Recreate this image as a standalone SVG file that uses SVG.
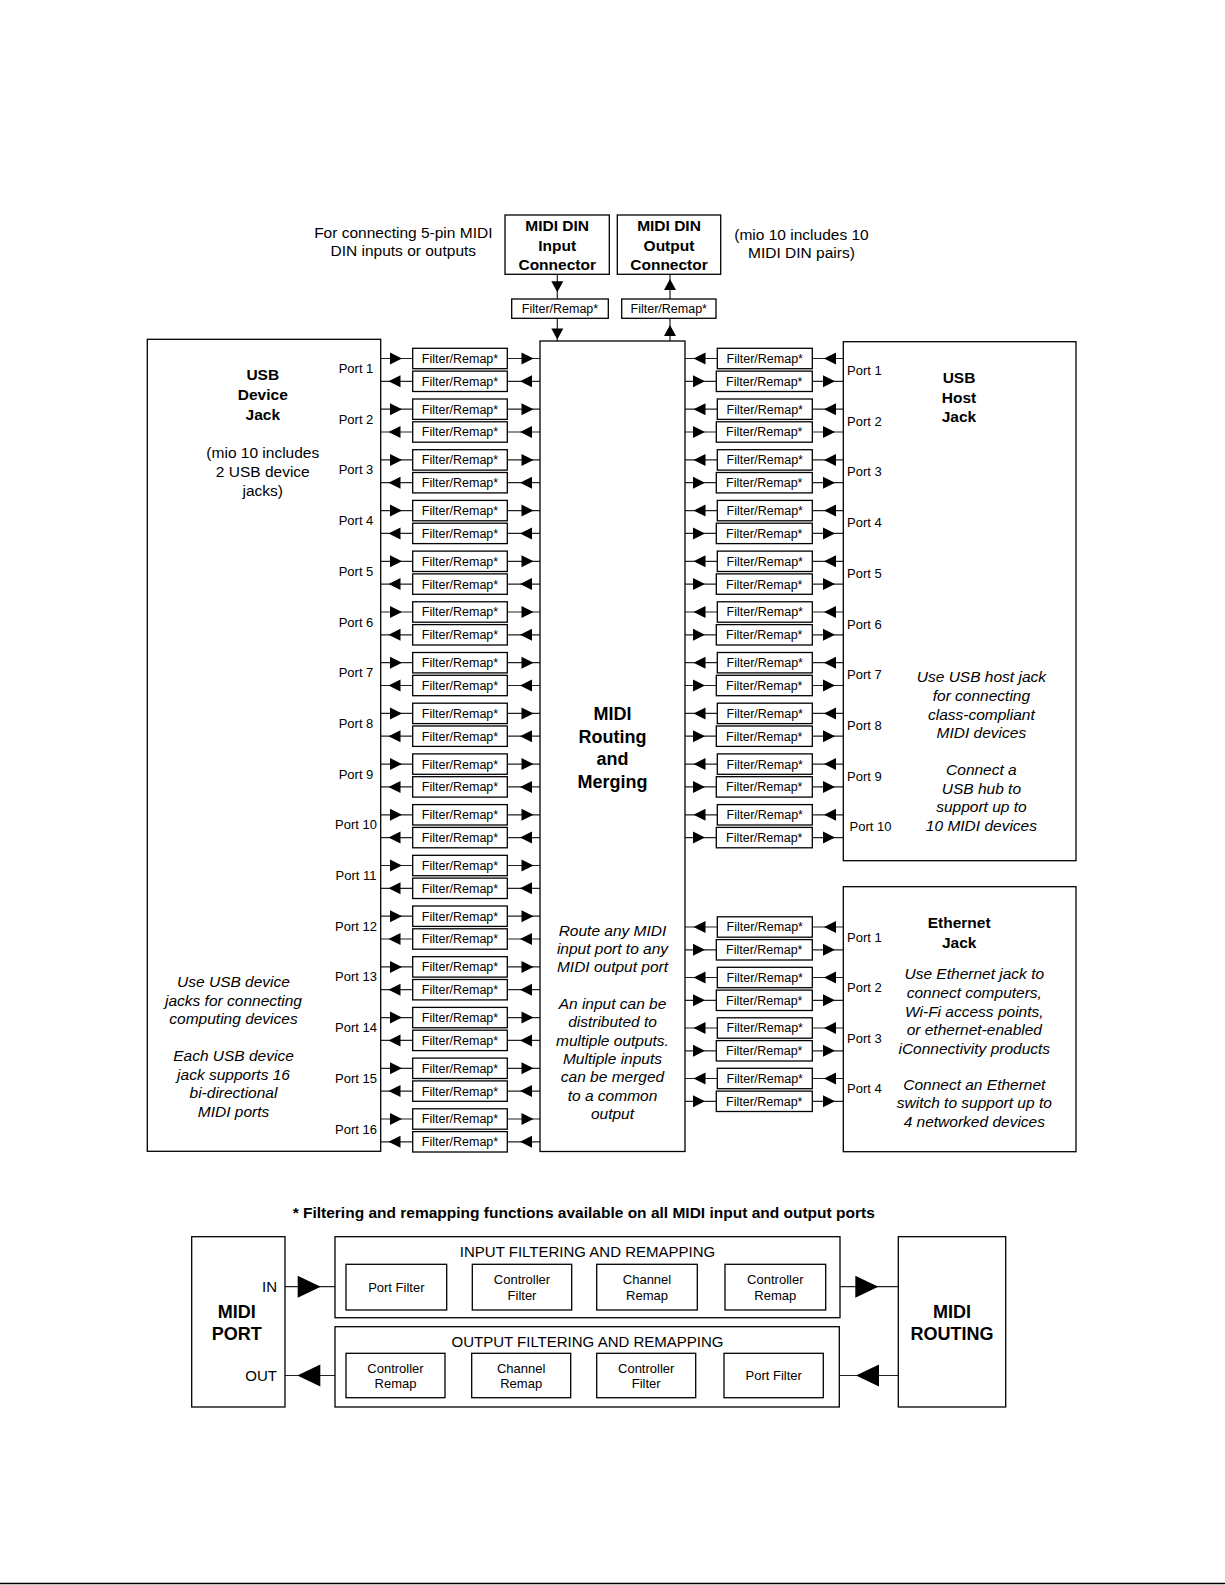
<svg xmlns="http://www.w3.org/2000/svg" xmlns:xlink="http://www.w3.org/1999/xlink" width="1225" height="1585" viewBox="0 0 1225 1585">
<style>
.box{fill:#fff;stroke:#000;stroke-width:1.3}
.ln{stroke:#222;stroke-width:1.2;fill:none}
.ah{fill:#000}
text{font-family:"Liberation Sans",Arial,Helvetica,sans-serif;fill:#000}
.fr{font-size:12.5px;text-anchor:middle}
.pl{font-size:13px}
.plm{font-size:13px;text-anchor:middle}
.b{font-weight:bold}
.i{font-style:italic}
.m{text-anchor:middle}
.e{text-anchor:end}
.s155{font-size:15.5px}
.s18{font-size:18px}
.s15{font-size:15px}
.s13{font-size:13px}
</style>
<defs>
<path id="ar" class="ah" d="M0 -6 L12 0 L0 6Z"/>
<path id="al" class="ah" d="M0 0 L12 -6 L12 6Z"/>
<path id="ad" class="ah" d="M-6 -11 L6 -11 L0 0Z"/>
<path id="au" class="ah" d="M0 0 L6 11 L-6 11Z"/>
<path id="br" class="ah" d="M-23 -11 L0 0 L-23 11Z"/>
<path id="bl" class="ah" d="M0 0 L23 -11 L23 11Z"/>
<path id="sr" class="ah" d="M-13 -6.3 L0 0 L-13 6.3Z"/>
<path id="sl" class="ah" d="M0 0 L13 -6.3 L13 6.3Z"/>
</defs>
<rect width="1225" height="1585" fill="#fff"/>

<g id="connectors">
<!-- top DIN -->
<path class="ln" d="M557.3 274.3 V299 M557.3 318.3 V341 M670 274.3 V299 M670 318.3 V341"/>
<use href="#ad" x="557.3" y="292.3"/><use href="#ad" x="557.3" y="339.5"/>
<use href="#au" x="670" y="279"/><use href="#au" x="670" y="325"/>
<!-- left USB device lines -->
<path class="ln" d="M380.7 358.5H540M380.7 381.3H540M380.7 409.2H540M380.7 432H540M380.7 459.9H540M380.7 482.7H540M380.7 510.6H540M380.7 533.4H540M380.7 561.3H540M380.7 584.1H540M380.7 612H540M380.7 634.8H540M380.7 662.7H540M380.7 685.5H540M380.7 713.4H540M380.7 736.2H540M380.7 764.1H540M380.7 786.9H540M380.7 814.8H540M380.7 837.6H540M380.7 865.5H540M380.7 888.3H540M380.7 916.2H540M380.7 939H540M380.7 966.9H540M380.7 989.7H540M380.7 1017.6H540M380.7 1040.4H540M380.7 1068.3H540M380.7 1091.1H540M380.7 1119H540M380.7 1141.8H540"/>
<g>
<use href="#ar" x="390" y="358.5"/><use href="#ar" x="521.5" y="358.5"/><use href="#al" x="388.5" y="381.3"/><use href="#al" x="520" y="381.3"/>
<use href="#ar" x="390" y="409.2"/><use href="#ar" x="521.5" y="409.2"/><use href="#al" x="388.5" y="432"/><use href="#al" x="520" y="432"/>
<use href="#ar" x="390" y="459.9"/><use href="#ar" x="521.5" y="459.9"/><use href="#al" x="388.5" y="482.7"/><use href="#al" x="520" y="482.7"/>
<use href="#ar" x="390" y="510.6"/><use href="#ar" x="521.5" y="510.6"/><use href="#al" x="388.5" y="533.4"/><use href="#al" x="520" y="533.4"/>
<use href="#ar" x="390" y="561.3"/><use href="#ar" x="521.5" y="561.3"/><use href="#al" x="388.5" y="584.1"/><use href="#al" x="520" y="584.1"/>
<use href="#ar" x="390" y="612"/><use href="#ar" x="521.5" y="612"/><use href="#al" x="388.5" y="634.8"/><use href="#al" x="520" y="634.8"/>
<use href="#ar" x="390" y="662.7"/><use href="#ar" x="521.5" y="662.7"/><use href="#al" x="388.5" y="685.5"/><use href="#al" x="520" y="685.5"/>
<use href="#ar" x="390" y="713.4"/><use href="#ar" x="521.5" y="713.4"/><use href="#al" x="388.5" y="736.2"/><use href="#al" x="520" y="736.2"/>
<use href="#ar" x="390" y="764.1"/><use href="#ar" x="521.5" y="764.1"/><use href="#al" x="388.5" y="786.9"/><use href="#al" x="520" y="786.9"/>
<use href="#ar" x="390" y="814.8"/><use href="#ar" x="521.5" y="814.8"/><use href="#al" x="388.5" y="837.6"/><use href="#al" x="520" y="837.6"/>
<use href="#ar" x="390" y="865.5"/><use href="#ar" x="521.5" y="865.5"/><use href="#al" x="388.5" y="888.3"/><use href="#al" x="520" y="888.3"/>
<use href="#ar" x="390" y="916.2"/><use href="#ar" x="521.5" y="916.2"/><use href="#al" x="388.5" y="939"/><use href="#al" x="520" y="939"/>
<use href="#ar" x="390" y="966.9"/><use href="#ar" x="521.5" y="966.9"/><use href="#al" x="388.5" y="989.7"/><use href="#al" x="520" y="989.7"/>
<use href="#ar" x="390" y="1017.6"/><use href="#ar" x="521.5" y="1017.6"/><use href="#al" x="388.5" y="1040.4"/><use href="#al" x="520" y="1040.4"/>
<use href="#ar" x="390" y="1068.3"/><use href="#ar" x="521.5" y="1068.3"/><use href="#al" x="388.5" y="1091.1"/><use href="#al" x="520" y="1091.1"/>
<use href="#ar" x="390" y="1119"/><use href="#ar" x="521.5" y="1119"/><use href="#al" x="388.5" y="1141.8"/><use href="#al" x="520" y="1141.8"/>
</g>
<!-- right USB host lines -->
<path class="ln" d="M685 358.5H843.3M685 381.3H843.3M685 409.2H843.3M685 432H843.3M685 459.9H843.3M685 482.7H843.3M685 510.6H843.3M685 533.4H843.3M685 561.3H843.3M685 584.1H843.3M685 612H843.3M685 634.8H843.3M685 662.7H843.3M685 685.5H843.3M685 713.4H843.3M685 736.2H843.3M685 764.1H843.3M685 786.9H843.3M685 814.8H843.3M685 837.6H843.3"/>
<g>
<use href="#al" x="693.5" y="358.5"/><use href="#al" x="824" y="358.5"/><use href="#ar" x="693" y="381.3"/><use href="#ar" x="823" y="381.3"/>
<use href="#al" x="693.5" y="409.2"/><use href="#al" x="824" y="409.2"/><use href="#ar" x="693" y="432"/><use href="#ar" x="823" y="432"/>
<use href="#al" x="693.5" y="459.9"/><use href="#al" x="824" y="459.9"/><use href="#ar" x="693" y="482.7"/><use href="#ar" x="823" y="482.7"/>
<use href="#al" x="693.5" y="510.6"/><use href="#al" x="824" y="510.6"/><use href="#ar" x="693" y="533.4"/><use href="#ar" x="823" y="533.4"/>
<use href="#al" x="693.5" y="561.3"/><use href="#al" x="824" y="561.3"/><use href="#ar" x="693" y="584.1"/><use href="#ar" x="823" y="584.1"/>
<use href="#al" x="693.5" y="612"/><use href="#al" x="824" y="612"/><use href="#ar" x="693" y="634.8"/><use href="#ar" x="823" y="634.8"/>
<use href="#al" x="693.5" y="662.7"/><use href="#al" x="824" y="662.7"/><use href="#ar" x="693" y="685.5"/><use href="#ar" x="823" y="685.5"/>
<use href="#al" x="693.5" y="713.4"/><use href="#al" x="824" y="713.4"/><use href="#ar" x="693" y="736.2"/><use href="#ar" x="823" y="736.2"/>
<use href="#al" x="693.5" y="764.1"/><use href="#al" x="824" y="764.1"/><use href="#ar" x="693" y="786.9"/><use href="#ar" x="823" y="786.9"/>
<use href="#al" x="693.5" y="814.8"/><use href="#al" x="824" y="814.8"/><use href="#ar" x="693" y="837.6"/><use href="#ar" x="823" y="837.6"/>
</g>
<!-- ethernet lines -->
<path class="ln" d="M685 927H843.3M685 949.8H843.3M685 977.5H843.3M685 1000.3H843.3M685 1028H843.3M685 1050.8H843.3M685 1078.5H843.3M685 1101.3H843.3"/>
<g>
<use href="#al" x="693.5" y="927"/><use href="#al" x="824" y="927"/><use href="#ar" x="693" y="949.8"/><use href="#ar" x="823" y="949.8"/>
<use href="#al" x="693.5" y="977.5"/><use href="#al" x="824" y="977.5"/><use href="#ar" x="693" y="1000.3"/><use href="#ar" x="823" y="1000.3"/>
<use href="#al" x="693.5" y="1028"/><use href="#al" x="824" y="1028"/><use href="#ar" x="693" y="1050.8"/><use href="#ar" x="823" y="1050.8"/>
<use href="#al" x="693.5" y="1078.5"/><use href="#al" x="824" y="1078.5"/><use href="#ar" x="693" y="1101.3"/><use href="#ar" x="823" y="1101.3"/>
</g>
<!-- bottom legend -->
<path class="ln" d="M285 1286.7H346M446.7 1286.7H472.3M571.7 1286.7H596.7M697.3 1286.7H725M825.7 1286.7H898.3M285 1375.5H346M445 1375.5H471.7M570.7 1375.5H596.7M695.7 1375.5H724M823.3 1375.5H898.3"/>
<use href="#br" x="320.7" y="1286.7"/><use href="#br" x="878.3" y="1286.7"/>
<use href="#bl" x="297.3" y="1375.5"/><use href="#bl" x="856" y="1375.5"/>
<use href="#sr" x="466.7" y="1286.7"/><use href="#sr" x="593.3" y="1286.7"/><use href="#sr" x="716.7" y="1286.7"/>
<use href="#sl" x="451.7" y="1375.5"/><use href="#sl" x="576.7" y="1375.5"/><use href="#sl" x="703.3" y="1375.5"/>
</g>

<!-- top annotations -->
<g id="din-note-left">
<text class="s155 m" x="403.3" y="238">For connecting 5-pin MIDI</text>
<text class="s155 m" x="403.3" y="256">DIN inputs or outputs</text>
</g>
<g id="din-note-right">
<text class="s155 m" x="801.5" y="240">(mio 10 includes 10</text>
<text class="s155 m" x="801.5" y="258">MIDI DIN pairs)</text>
</g>
<g id="din-input">
<rect class="box" x="505" y="215" width="104.3" height="59.3"/>
<text class="s155 b m" x="557.2" y="231">MIDI DIN</text>
<text class="s155 b m" x="557.2" y="250.5">Input</text>
<text class="s155 b m" x="557.2" y="270">Connector</text>
</g>
<g id="din-output">
<rect class="box" x="617.3" y="215" width="103.4" height="59.3"/>
<text class="s155 b m" x="669" y="231">MIDI DIN</text>
<text class="s155 b m" x="669" y="250.5">Output</text>
<text class="s155 b m" x="669" y="270">Connector</text>
</g>
<g id="fr-din-in"><rect class="box" x="511.7" y="299" width="96.6" height="19.3"/><text class="fr" x="560" y="313.2">Filter/Remap*</text></g>
<g id="fr-din-out"><rect class="box" x="621.7" y="299" width="94.3" height="19.3"/><text class="fr" x="668.8" y="313.2">Filter/Remap*</text></g>

<!-- USB device jack -->
<g id="usb-device">
<rect class="box" x="147.3" y="339.3" width="233.4" height="812"/>
<text class="s155 b m" x="262.8" y="379.5">USB</text>
<text class="s155 b m" x="262.8" y="399.7">Device</text>
<text class="s155 b m" x="262.8" y="419.9">Jack</text>
<text class="s155 m" x="262.8" y="458.3">(mio 10 includes</text>
<text class="s155 m" x="262.8" y="476.5">2 USB device</text>
<text class="s155 m" x="262.8" y="495.7">jacks)</text>
<text class="s155 m i" x="233.5" y="987.4">Use USB device</text>
<text class="s155 m i" x="233.5" y="1005.8">jacks for connecting</text>
<text class="s155 m i" x="233.5" y="1024.4">computing devices</text>
<text class="s155 m i" x="233.5" y="1061.2">Each USB device</text>
<text class="s155 m i" x="233.5" y="1079.8">jack supports 16</text>
<text class="s155 m i" x="233.5" y="1098.4">bi-directional</text>
<text class="s155 m i" x="233.5" y="1117">MIDI ports</text>
<text class="plm" x="356" y="373">Port 1</text>
<text class="plm" x="356" y="423.7">Port 2</text>
<text class="plm" x="356" y="474.4">Port 3</text>
<text class="plm" x="356" y="525.1">Port 4</text>
<text class="plm" x="356" y="575.8">Port 5</text>
<text class="plm" x="356" y="626.5">Port 6</text>
<text class="plm" x="356" y="677.2">Port 7</text>
<text class="plm" x="356" y="727.9">Port 8</text>
<text class="plm" x="356" y="778.6">Port 9</text>
<text class="plm" x="356" y="829.3">Port 10</text>
<text class="plm" x="356" y="880">Port 11</text>
<text class="plm" x="356" y="930.7">Port 12</text>
<text class="plm" x="356" y="981.4">Port 13</text>
<text class="plm" x="356" y="1032.1">Port 14</text>
<text class="plm" x="356" y="1082.8">Port 15</text>
<text class="plm" x="356" y="1133.5">Port 16</text>
</g>

<!-- central routing -->
<g id="routing">
<rect class="box" x="540" y="341" width="145" height="810.5"/>
<text class="s18 b m" x="612.5" y="719.6">MIDI</text>
<text class="s18 b m" x="612.5" y="742.5">Routing</text>
<text class="s18 b m" x="612.5" y="765.3">and</text>
<text class="s18 b m" x="612.5" y="788">Merging</text>
<text class="s155 m i" x="612.5" y="935.5">Route any MIDI</text>
<text class="s155 m i" x="612.5" y="953.9">input port to any</text>
<text class="s155 m i" x="612.5" y="972.2">MIDI output port</text>
<text class="s155 m i" x="612.5" y="1009">An input can be</text>
<text class="s155 m i" x="612.5" y="1027.4">distributed to</text>
<text class="s155 m i" x="612.5" y="1045.7">multiple outputs.</text>
<text class="s155 m i" x="612.5" y="1064.1">Multiple inputs</text>
<text class="s155 m i" x="612.5" y="1082.4">can be merged</text>
<text class="s155 m i" x="612.5" y="1100.8">to a common</text>
<text class="s155 m i" x="612.5" y="1119.1">output</text>
</g>

<!-- USB host jack -->
<g id="usb-host">
<rect class="box" x="843.3" y="341.7" width="232.7" height="519"/>
<text class="s155 b m" x="959" y="383">USB</text>
<text class="s155 b m" x="959" y="402.5">Host</text>
<text class="s155 b m" x="959" y="422">Jack</text>
<text class="s155 m i" x="981.4" y="682.2">Use USB host jack</text>
<text class="s155 m i" x="981.4" y="701">for connecting</text>
<text class="s155 m i" x="981.4" y="719.6">class-compliant</text>
<text class="s155 m i" x="981.4" y="738.4">MIDI devices</text>
<text class="s155 m i" x="981.4" y="775.2">Connect a</text>
<text class="s155 m i" x="981.4" y="793.8">USB hub to</text>
<text class="s155 m i" x="981.4" y="812.4">support up to</text>
<text class="s155 m i" x="981.4" y="831">10 MIDI devices</text>
<text class="pl" x="847" y="375">Port 1</text>
<text class="pl" x="847" y="425.7">Port 2</text>
<text class="pl" x="847" y="476.4">Port 3</text>
<text class="pl" x="847" y="527.1">Port 4</text>
<text class="pl" x="847" y="577.8">Port 5</text>
<text class="pl" x="847" y="628.5">Port 6</text>
<text class="pl" x="847" y="679.2">Port 7</text>
<text class="pl" x="847" y="729.9">Port 8</text>
<text class="pl" x="847" y="780.6">Port 9</text>
<text class="pl" x="849.5" y="831.3">Port 10</text>
</g>

<!-- Ethernet jack -->
<g id="ethernet">
<rect class="box" x="843.3" y="886.7" width="232.7" height="265"/>
<text class="s155 b m" x="959.2" y="927.5">Ethernet</text>
<text class="s155 b m" x="959.2" y="947.7">Jack</text>
<text class="s155 m i" x="974.3" y="979.3">Use Ethernet jack to</text>
<text class="s155 m i" x="974.3" y="997.9">connect computers,</text>
<text class="s155 m i" x="974.3" y="1016.5">Wi-Fi access points,</text>
<text class="s155 m i" x="974.3" y="1035.1">or ethernet-enabled</text>
<text class="s155 m i" x="974.3" y="1053.7">iConnectivity products</text>
<text class="s155 m i" x="974.3" y="1089.5">Connect an Ethernet</text>
<text class="s155 m i" x="974.3" y="1108.1">switch to support up to</text>
<text class="s155 m i" x="974.3" y="1126.7">4 networked devices</text>
<text class="pl" x="847" y="941.5">Port 1</text>
<text class="pl" x="847" y="992">Port 2</text>
<text class="pl" x="847" y="1042.5">Port 3</text>
<text class="pl" x="847" y="1093">Port 4</text>
</g>

<!-- left filter boxes -->
<g id="fr-L1a"><rect class="box" x="412.7" y="348.3" width="94.6" height="20.4"/><text class="fr" x="460" y="362.9">Filter/Remap*</text></g>
<g id="fr-L1b"><rect class="box" x="412.7" y="371.1" width="94.6" height="20.4"/><text class="fr" x="460" y="385.7">Filter/Remap*</text></g>
<g id="fr-L2a"><rect class="box" x="412.7" y="399" width="94.6" height="20.4"/><text class="fr" x="460" y="413.6">Filter/Remap*</text></g>
<g id="fr-L2b"><rect class="box" x="412.7" y="421.8" width="94.6" height="20.4"/><text class="fr" x="460" y="436.4">Filter/Remap*</text></g>
<g id="fr-L3a"><rect class="box" x="412.7" y="449.7" width="94.6" height="20.4"/><text class="fr" x="460" y="464.3">Filter/Remap*</text></g>
<g id="fr-L3b"><rect class="box" x="412.7" y="472.5" width="94.6" height="20.4"/><text class="fr" x="460" y="487.1">Filter/Remap*</text></g>
<g id="fr-L4a"><rect class="box" x="412.7" y="500.4" width="94.6" height="20.4"/><text class="fr" x="460" y="515">Filter/Remap*</text></g>
<g id="fr-L4b"><rect class="box" x="412.7" y="523.2" width="94.6" height="20.4"/><text class="fr" x="460" y="537.8">Filter/Remap*</text></g>
<g id="fr-L5a"><rect class="box" x="412.7" y="551.1" width="94.6" height="20.4"/><text class="fr" x="460" y="565.7">Filter/Remap*</text></g>
<g id="fr-L5b"><rect class="box" x="412.7" y="573.9" width="94.6" height="20.4"/><text class="fr" x="460" y="588.5">Filter/Remap*</text></g>
<g id="fr-L6a"><rect class="box" x="412.7" y="601.8" width="94.6" height="20.4"/><text class="fr" x="460" y="616.4">Filter/Remap*</text></g>
<g id="fr-L6b"><rect class="box" x="412.7" y="624.6" width="94.6" height="20.4"/><text class="fr" x="460" y="639.2">Filter/Remap*</text></g>
<g id="fr-L7a"><rect class="box" x="412.7" y="652.5" width="94.6" height="20.4"/><text class="fr" x="460" y="667.1">Filter/Remap*</text></g>
<g id="fr-L7b"><rect class="box" x="412.7" y="675.3" width="94.6" height="20.4"/><text class="fr" x="460" y="689.9">Filter/Remap*</text></g>
<g id="fr-L8a"><rect class="box" x="412.7" y="703.2" width="94.6" height="20.4"/><text class="fr" x="460" y="717.8">Filter/Remap*</text></g>
<g id="fr-L8b"><rect class="box" x="412.7" y="726" width="94.6" height="20.4"/><text class="fr" x="460" y="740.6">Filter/Remap*</text></g>
<g id="fr-L9a"><rect class="box" x="412.7" y="753.9" width="94.6" height="20.4"/><text class="fr" x="460" y="768.5">Filter/Remap*</text></g>
<g id="fr-L9b"><rect class="box" x="412.7" y="776.7" width="94.6" height="20.4"/><text class="fr" x="460" y="791.3">Filter/Remap*</text></g>
<g id="fr-L10a"><rect class="box" x="412.7" y="804.6" width="94.6" height="20.4"/><text class="fr" x="460" y="819.2">Filter/Remap*</text></g>
<g id="fr-L10b"><rect class="box" x="412.7" y="827.4" width="94.6" height="20.4"/><text class="fr" x="460" y="842">Filter/Remap*</text></g>
<g id="fr-L11a"><rect class="box" x="412.7" y="855.3" width="94.6" height="20.4"/><text class="fr" x="460" y="869.9">Filter/Remap*</text></g>
<g id="fr-L11b"><rect class="box" x="412.7" y="878.1" width="94.6" height="20.4"/><text class="fr" x="460" y="892.7">Filter/Remap*</text></g>
<g id="fr-L12a"><rect class="box" x="412.7" y="906" width="94.6" height="20.4"/><text class="fr" x="460" y="920.6">Filter/Remap*</text></g>
<g id="fr-L12b"><rect class="box" x="412.7" y="928.8" width="94.6" height="20.4"/><text class="fr" x="460" y="943.4">Filter/Remap*</text></g>
<g id="fr-L13a"><rect class="box" x="412.7" y="956.7" width="94.6" height="20.4"/><text class="fr" x="460" y="971.3">Filter/Remap*</text></g>
<g id="fr-L13b"><rect class="box" x="412.7" y="979.5" width="94.6" height="20.4"/><text class="fr" x="460" y="994.1">Filter/Remap*</text></g>
<g id="fr-L14a"><rect class="box" x="412.7" y="1007.4" width="94.6" height="20.4"/><text class="fr" x="460" y="1022">Filter/Remap*</text></g>
<g id="fr-L14b"><rect class="box" x="412.7" y="1030.2" width="94.6" height="20.4"/><text class="fr" x="460" y="1044.8">Filter/Remap*</text></g>
<g id="fr-L15a"><rect class="box" x="412.7" y="1058.1" width="94.6" height="20.4"/><text class="fr" x="460" y="1072.7">Filter/Remap*</text></g>
<g id="fr-L15b"><rect class="box" x="412.7" y="1080.9" width="94.6" height="20.4"/><text class="fr" x="460" y="1095.5">Filter/Remap*</text></g>
<g id="fr-L16a"><rect class="box" x="412.7" y="1108.8" width="94.6" height="20.4"/><text class="fr" x="460" y="1123.4">Filter/Remap*</text></g>
<g id="fr-L16b"><rect class="box" x="412.7" y="1131.6" width="94.6" height="20.4"/><text class="fr" x="460" y="1146.2">Filter/Remap*</text></g>

<!-- right USB host filter boxes -->
<g id="fr-R1a"><rect class="box" x="717.3" y="348.3" width="95" height="20.4"/><text class="fr" x="764.8" y="362.9">Filter/Remap*</text></g>
<g id="fr-R1b"><rect class="box" x="716.3" y="371.1" width="96" height="20.4"/><text class="fr" x="764.3" y="385.7">Filter/Remap*</text></g>
<g id="fr-R2a"><rect class="box" x="717.3" y="399" width="95" height="20.4"/><text class="fr" x="764.8" y="413.6">Filter/Remap*</text></g>
<g id="fr-R2b"><rect class="box" x="716.3" y="421.8" width="96" height="20.4"/><text class="fr" x="764.3" y="436.4">Filter/Remap*</text></g>
<g id="fr-R3a"><rect class="box" x="717.3" y="449.7" width="95" height="20.4"/><text class="fr" x="764.8" y="464.3">Filter/Remap*</text></g>
<g id="fr-R3b"><rect class="box" x="716.3" y="472.5" width="96" height="20.4"/><text class="fr" x="764.3" y="487.1">Filter/Remap*</text></g>
<g id="fr-R4a"><rect class="box" x="717.3" y="500.4" width="95" height="20.4"/><text class="fr" x="764.8" y="515">Filter/Remap*</text></g>
<g id="fr-R4b"><rect class="box" x="716.3" y="523.2" width="96" height="20.4"/><text class="fr" x="764.3" y="537.8">Filter/Remap*</text></g>
<g id="fr-R5a"><rect class="box" x="717.3" y="551.1" width="95" height="20.4"/><text class="fr" x="764.8" y="565.7">Filter/Remap*</text></g>
<g id="fr-R5b"><rect class="box" x="716.3" y="573.9" width="96" height="20.4"/><text class="fr" x="764.3" y="588.5">Filter/Remap*</text></g>
<g id="fr-R6a"><rect class="box" x="717.3" y="601.8" width="95" height="20.4"/><text class="fr" x="764.8" y="616.4">Filter/Remap*</text></g>
<g id="fr-R6b"><rect class="box" x="716.3" y="624.6" width="96" height="20.4"/><text class="fr" x="764.3" y="639.2">Filter/Remap*</text></g>
<g id="fr-R7a"><rect class="box" x="717.3" y="652.5" width="95" height="20.4"/><text class="fr" x="764.8" y="667.1">Filter/Remap*</text></g>
<g id="fr-R7b"><rect class="box" x="716.3" y="675.3" width="96" height="20.4"/><text class="fr" x="764.3" y="689.9">Filter/Remap*</text></g>
<g id="fr-R8a"><rect class="box" x="717.3" y="703.2" width="95" height="20.4"/><text class="fr" x="764.8" y="717.8">Filter/Remap*</text></g>
<g id="fr-R8b"><rect class="box" x="716.3" y="726" width="96" height="20.4"/><text class="fr" x="764.3" y="740.6">Filter/Remap*</text></g>
<g id="fr-R9a"><rect class="box" x="717.3" y="753.9" width="95" height="20.4"/><text class="fr" x="764.8" y="768.5">Filter/Remap*</text></g>
<g id="fr-R9b"><rect class="box" x="716.3" y="776.7" width="96" height="20.4"/><text class="fr" x="764.3" y="791.3">Filter/Remap*</text></g>
<g id="fr-R10a"><rect class="box" x="717.3" y="804.6" width="95" height="20.4"/><text class="fr" x="764.8" y="819.2">Filter/Remap*</text></g>
<g id="fr-R10b"><rect class="box" x="716.3" y="827.4" width="96" height="20.4"/><text class="fr" x="764.3" y="842">Filter/Remap*</text></g>

<!-- ethernet filter boxes -->
<g id="fr-E1a"><rect class="box" x="717.3" y="916.8" width="95" height="20.4"/><text class="fr" x="764.8" y="931.4">Filter/Remap*</text></g>
<g id="fr-E1b"><rect class="box" x="716.3" y="939.6" width="96" height="20.4"/><text class="fr" x="764.3" y="954.2">Filter/Remap*</text></g>
<g id="fr-E2a"><rect class="box" x="717.3" y="967.3" width="95" height="20.4"/><text class="fr" x="764.8" y="981.9">Filter/Remap*</text></g>
<g id="fr-E2b"><rect class="box" x="716.3" y="990.1" width="96" height="20.4"/><text class="fr" x="764.3" y="1004.7">Filter/Remap*</text></g>
<g id="fr-E3a"><rect class="box" x="717.3" y="1017.8" width="95" height="20.4"/><text class="fr" x="764.8" y="1032.4">Filter/Remap*</text></g>
<g id="fr-E3b"><rect class="box" x="716.3" y="1040.6" width="96" height="20.4"/><text class="fr" x="764.3" y="1055.2">Filter/Remap*</text></g>
<g id="fr-E4a"><rect class="box" x="717.3" y="1068.3" width="95" height="20.4"/><text class="fr" x="764.8" y="1082.9">Filter/Remap*</text></g>
<g id="fr-E4b"><rect class="box" x="716.3" y="1091.1" width="96" height="20.4"/><text class="fr" x="764.3" y="1105.7">Filter/Remap*</text></g>

<!-- footnote legend -->
<g id="footnote">
<text class="s155 b m" x="583.7" y="1218">* Filtering and remapping functions available on all MIDI input and output ports</text>
</g>
<g id="midi-port">
<rect class="box" x="191.7" y="1236.7" width="93.3" height="170.3"/>
<text class="s15 e" x="277" y="1292.2">IN</text>
<text class="s18 b m" x="236.7" y="1318.2">MIDI</text>
<text class="s18 b m" x="236.7" y="1339.8">PORT</text>
<text class="s15 e" x="277" y="1381.3">OUT</text>
</g>
<g id="input-group">
<rect class="box" x="335" y="1236.7" width="505" height="81"/>
<text class="s15 m" x="587.5" y="1256.7">INPUT FILTERING AND REMAPPING</text>
</g>
<g id="output-group">
<rect class="box" x="335" y="1326.7" width="504.3" height="80.3"/>
<text class="s15 m" x="587.5" y="1346.7">OUTPUT FILTERING AND REMAPPING</text>
</g>
<g id="in-port-filter"><rect class="box" x="346" y="1264.3" width="100.7" height="45.7"/><text class="s13 m" x="396.3" y="1291.6">Port Filter</text></g>
<g id="in-ctrl-filter"><rect class="box" x="472.3" y="1264.3" width="99.4" height="45.7"/><text class="s13 m" x="522" y="1284">Controller</text><text class="s13 m" x="522" y="1299.5">Filter</text></g>
<g id="in-chan-remap"><rect class="box" x="596.7" y="1264.3" width="100.6" height="45.7"/><text class="s13 m" x="647" y="1284">Channel</text><text class="s13 m" x="647" y="1299.5">Remap</text></g>
<g id="in-ctrl-remap"><rect class="box" x="725" y="1264.3" width="100.7" height="45.7"/><text class="s13 m" x="775.3" y="1284">Controller</text><text class="s13 m" x="775.3" y="1299.5">Remap</text></g>
<g id="out-ctrl-remap"><rect class="box" x="346" y="1353.3" width="99" height="44.4"/><text class="s13 m" x="395.5" y="1372.5">Controller</text><text class="s13 m" x="395.5" y="1388">Remap</text></g>
<g id="out-chan-remap"><rect class="box" x="471.7" y="1353.3" width="99" height="44.4"/><text class="s13 m" x="521.2" y="1372.5">Channel</text><text class="s13 m" x="521.2" y="1388">Remap</text></g>
<g id="out-ctrl-filter"><rect class="box" x="596.7" y="1353.3" width="99" height="44.4"/><text class="s13 m" x="646.2" y="1372.5">Controller</text><text class="s13 m" x="646.2" y="1388">Filter</text></g>
<g id="out-port-filter"><rect class="box" x="724" y="1353.3" width="99.3" height="44.4"/><text class="s13 m" x="773.7" y="1380">Port Filter</text></g>
<g id="midi-routing">
<rect class="box" x="898.3" y="1236.7" width="107.4" height="170.3"/>
<text class="s18 b m" x="952" y="1318.2">MIDI</text>
<text class="s18 b m" x="952" y="1339.5">ROUTING</text>
</g>
<line x1="0" y1="1583.5" x2="1225" y2="1583.5" stroke="#000" stroke-width="1.5"/>
</svg>
